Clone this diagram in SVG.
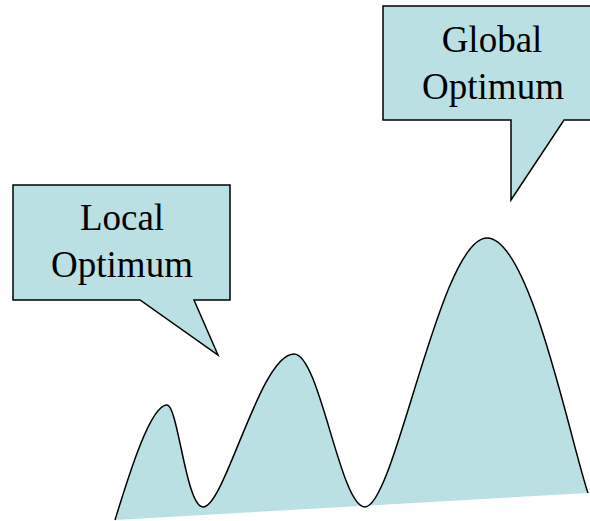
<svg xmlns="http://www.w3.org/2000/svg" width="590" height="521" viewBox="0 0 590 521">
<style>
.shape{fill:#BBE0E3;stroke:#000;stroke-width:1.5;stroke-linejoin:miter}
.lbl{font-family:"Liberation Serif","Times New Roman",serif;font-size:37px;fill:#000;text-anchor:middle}
</style>
<rect width="590" height="521" fill="#fff"/>
<g id="landscape">
<path d="M115,520 C128,478 150,405 167,405 C178,405 186,507 203,507 C225,507 260,354 294,354 C320,354 340,507 365,507 C395,507 440,238 487,238 C530,238 570,440 588,493 Z" fill="#BBE0E3" stroke="none"/>
<path d="M115,520 C128,478 150,405 167,405 C178,405 186,507 203,507 C225,507 260,354 294,354 C320,354 340,507 365,507 C395,507 440,238 487,238 C530,238 570,440 588,493" fill="none" stroke="#000" stroke-width="1.5"/>
</g>
<g id="local-optimum">
<polygon class="shape" points="13,185 230,185 230,300 194,300 218,355 140,300 13,300"/>
<text class="lbl" x="122" y="230">Local</text>
<text class="lbl" x="122" y="277">Optimum</text>
</g>
<g id="global-optimum">
<polygon class="shape" points="383,6 594,6 594,120 564,120 511,200 511,120 383,120"/>
<text class="lbl" x="492" y="52">Global</text>
<text class="lbl" x="493" y="99">Optimum</text>
</g>
<g id="connectors"></g>
</svg>
